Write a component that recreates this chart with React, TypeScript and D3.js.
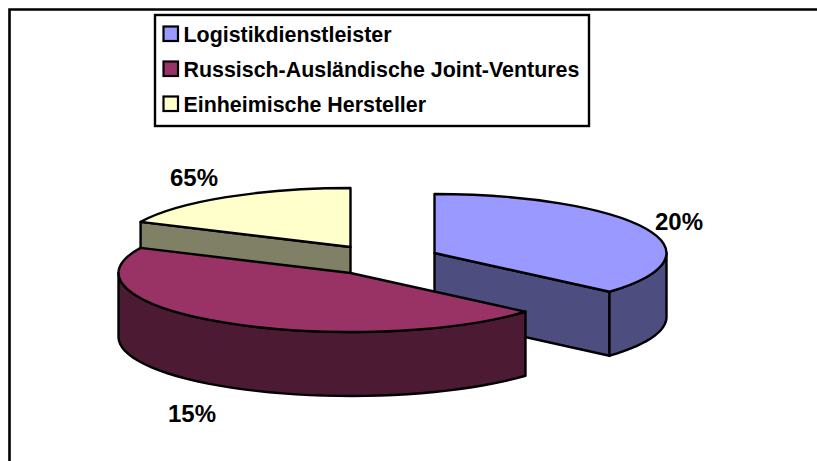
import React from 'react';
import * as d3 from 'd3';

const categories = ['Logistikdienstleister', 'Russisch-Ausländische Joint-Ventures', 'Einheimische Hersteller'];
// drawn slice sizes (they differ from the printed labels)
const shares = [36.4, 45.6, 18];
const pctLabels = ['20%', '15%', '65%'];
const topColors = ['#9999ff', '#993366', '#ffffcc'];
const sideColors = ['#4d4d80', '#4d1a33', '#808066'];

const width = 817;
const height = 461;
const rx = 232;
const ry = 59;
const depth = 64;
const pieCenter = { x: 350.5, y: 273 };
// explosion offset of each slice from the pie centre
const offsets = [
  { x: 84, y: -20 },
  { x: 0, y: 0 },
  { x: 0, y: -26 },
];
const labelPos = [
  { x: 655, y: 230 },
  { x: 168, y: 422 },
  { x: 170, y: 186 },
];
const legendBox = { x: 155, y: 15, w: 434, h: 111 };

const slices = d3.pie<number>().sort(null)(shares);
const arcGen = d3.arc<d3.PieArcDatum<number>>().innerRadius(0).outerRadius(rx);

// point on the flattened pie rim, angle clockwise from 12 o'clock
const rim = (a: number, dy = 0): [number, number] => [rx * Math.sin(a), -ry * Math.cos(a) + dy];

// outer wall of a slice between two angles
const wallPath = (a0: number, a1: number) => {
  const top = d3.range(0, 41).map((i) => rim(a0 + ((a1 - a0) * i) / 40));
  const bottom = top.map(([x, y]) => [x, y + depth] as [number, number]).reverse();
  return d3.line()([...top, ...bottom]) + 'Z';
};

// flat cut face going from the apex to the rim
const cutPath = (a: number) => {
  const [x, y] = rim(a);
  return d3.line()([[0, 0], [x, y], [x, y + depth], [0, depth]]) + 'Z';
};

const stroke = { stroke: '#000', strokeWidth: 2.4, strokeLinejoin: 'round' as const };

function Slice({ index }: { index: number }) {
  const s = slices[index];
  const off = offsets[index];
  return (
    <g transform={`translate(${pieCenter.x + off.x},${pieCenter.y + off.y})`}>
      {index === 0 && (
        <>
          <path d={cutPath(s.endAngle)} fill={sideColors[index]} {...stroke} />
          <path d={wallPath(Math.PI / 2, s.endAngle)} fill={sideColors[index]} {...stroke} />
        </>
      )}
      {index === 2 && <path d={cutPath(s.startAngle)} fill={sideColors[index]} {...stroke} />}
      {index === 1 && <path d={wallPath(s.startAngle, (3 * Math.PI) / 2)} fill={sideColors[index]} {...stroke} />}
      <g transform={`scale(1,${ry / rx})`}>
        <path d={arcGen(s) as string} fill={topColors[index]} {...stroke} vectorEffect="non-scaling-stroke" />
      </g>
    </g>
  );
}

export default function App() {
  return (
    <svg
      width={width}
      height={height}
      style={{ position: 'absolute', left: 0, top: 0, fontFamily: '"Liberation Sans", Arial, sans-serif', fontWeight: 'bold' }}
    >
      <rect width={width} height={height} fill="#fff" />
      <path d={`M9.5,${height} V9.5 H${width}`} fill="none" stroke="#000" strokeWidth={2.6} />

      <Slice index={2} />
      <Slice index={0} />
      <Slice index={1} />

      {pctLabels.map((t, i) => (
        <text key={t} x={labelPos[i].x} y={labelPos[i].y} fontSize={24} fill="#000">
          {t}
        </text>
      ))}

      <rect x={legendBox.x} y={legendBox.y} width={legendBox.w} height={legendBox.h} fill="#fff" stroke="#000" strokeWidth={2.4} />
      {categories.map((c, i) => (
        <g key={c} transform={`translate(${legendBox.x + 8.5},${legendBox.y + 11.5 + i * 35})`}>
          <rect width={14.5} height={14.5} fill={topColors[i]} stroke="#000" strokeWidth={2.2} />
          <text x={20} y={15.2} fontSize={21.4} fill="#000">
            {c}
          </text>
        </g>
      ))}
    </svg>
  );
}
